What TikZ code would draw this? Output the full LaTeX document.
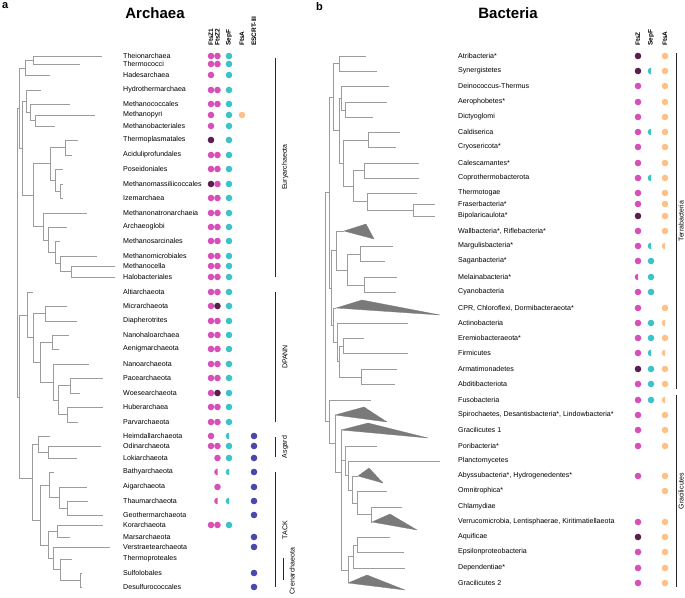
\documentclass[tikz,border=0pt]{standalone}
\usepackage{fontspec}
\setmainfont{Liberation Sans}
\usetikzlibrary{calc}
\definecolor{ftsz}{HTML}{D94FBA}
\definecolor{ftszdark}{HTML}{5B1F4E}
\definecolor{sepf}{HTML}{3CC3C8}
\definecolor{ftsa}{HTML}{FDC187}
\definecolor{escrt}{HTML}{4B48AD}
\definecolor{branch}{HTML}{9C9C9C}
\definecolor{collapsed}{HTML}{7A7A7A}
\newcommand\halfdot[2]{\fill[#2] #1 ++(0,3.3) arc[start angle=90, end angle=270, radius=3.3] -- cycle;}

\begin{document}
\begin{tikzpicture}[x=1pt, y=-1pt,
    br/.style={draw=branch, line width=0.8pt},
    clade/.style={fill=collapsed, draw=collapsed, line width=0.3pt, line join=round},
    taxon/.style={anchor=west, inner sep=0pt, font=\fontsize{7.1}{8}\selectfont},
    colhead/.style={rotate=90, anchor=west, inner sep=0pt, font=\fontsize{6.5}{7}\selectfont\bfseries},
    group/.style={rotate=90, inner sep=0pt, font=\fontsize{7}{8}\selectfont},
    bar/.style={draw=black!85, line width=0.7pt},
    dot/.style={circle, fill=#1, inner sep=0pt, minimum size=6.6pt},
    title/.style={font=\fontsize{15}{17}\selectfont\bfseries},
    panel/.style={anchor=north west, inner sep=0pt, font=\fontsize{11}{12}\selectfont\bfseries}
]
\useasboundingbox (0,0) rectangle (685,597);

% headings
\node[panel] (pa) at (2,2) {a};
\node[panel] (pb) at (316,2) {b};
\node[title] (arch) at (155,13) {Archaea};
\node[title] (bact) at (508,13) {Bacteria};
\foreach \x/\t in {211/FtsZ1, 217.5/FtsZ2, 229/SepF, 242/FtsA, 254/ESCRT-III}
    \node[colhead] at (\x,46) {\t};
\foreach \x/\t in {638/FtsZ, 651/SepF, 665/FtsA}
    \node[colhead] at (\x,46) {\t};

% archaea labels
\foreach \y/\t [count=\i] in {56/Theionarchaea, 64/Thermococci, 75/Hadesarchaea, 90/Hydrothermarchaea,
    104/Methanococcales, 115/Methanopyri, 126/Methanobacteriales, 140/Thermoplasmatales,
    155/Aciduliprofundales, 169/Poseidoniales, 184/Methanomassiliicoccales, 198/Izemarchaea,
    213/Methanonatronarchaeia, 227/Archaeoglobi, 241/Methanosarcinales, 256/Methanomicrobiales,
    266/Methanocella, 277/Halobacteriales, 292/Altiarchaeota, 306/Micrarchaeota,
    321/Diapherotrites, 335/Nanohaloarchaea, 349/Aenigmarchaeota, 364/Nanoarchaeota,
    378/Pacearchaeota, 393/Woesearchaeota, 407/Huberarchaea, 422/Parvarchaeota,
    436/Heimdallarchaeota, 446/Odinarchaeota, 458/Lokiarchaeota, 472/Bathyarchaeota,
    487/Aigarchaeota, 501/Thaumarchaeota, 515/Geothermarchaeota, 525/Korarchaeota,
    537/Marsarchaeota, 547/Verstraetearchaeota, 559/Thermoproteales, 573/Sulfolobales,
    587/Desulfurococcales}
    \node[taxon] (a\i) at (123,\y) {\t};

% archaea presence
\foreach \i in {1,...,7,9,10,12,13,...,30,36}
    \node[dot=ftsz] at ($(a\i.west)+(88,0)$) {};
\foreach \i in {8,11}
    \node[dot=ftszdark] at ($(a\i.west)+(88,0)$) {};
\foreach \i in {1,2,4,5,9,10,11,...,19,21,22,...,25,27,28,30,31,33,36}
    \node[dot=ftsz] at ($(a\i.west)+(94.5,0)$) {};
\foreach \i in {20,26}
    \node[dot=ftszdark] at ($(a\i.west)+(94.5,0)$) {};
\foreach \i in {32,34}
    {\halfdot{($(a\i.west)+(94.5,0)$)}{ftsz}}
\foreach \i in {1,...,28,30,31,36}
    \node[dot=sepf] at ($(a\i.west)+(106,0)$) {};
\foreach \i in {29,32,34}
    {\halfdot{($(a\i.west)+(106,0)$)}{sepf}}
\node[dot=ftsa] at ($(a6.west)+(119,0)$) {};
\foreach \i in {29,...,35,37,38,40,41}
    \node[dot=escrt] at ($(a\i.west)+(131,0)$) {};

% archaea groups
\draw[bar] (275,58) -- (275,277);
\draw[bar] (275,292) -- (275,422);
\draw[bar] (275,437) -- (275,457);
\draw[bar] (275,472) -- (275,587);
\draw[bar] (283,558) -- (283,580);
\node[group] (eury) at (285,167) {Euryarchaeota};
\node[group] (dpann) at (285,357) {DPANN};
\node[group] (asgard) at (285,447) {Asgard};
\node[group] (tack) at (285,530) {TACK};
\node[group] (cren) at (292,571) {Crenarchaeota};

% archaea tree
\foreach \n/\x/\y in {t1/102/56, t2/80/64, t3/50/75, t4/41/90, t5/70/104, t6/95/115, t7/55/126,
    t8/78/140, t9/72/155, t10/63/169, t11/63/184, t12/63/198, t13/87/213, t14/67/227, t15/60/241,
    t16/97/256, t17/115/266, t18/115/277, t19/33/292, t20/67/306, t21/77/321, t22/69/335,
    t23/59/349, t24/89/364, t25/103/378, t26/80/393, t27/103/407, t28/78/422, t29/50/436,
    t30/101/446, t31/77/458, t32/54/472, t33/87/487, t34/88/501, t35/103/515, t36/103/525,
    t37/70/537, t38/110/547, t39/72/559, t40/82/573, t41/82/587,
    nA/33/60, nB/25/68, nC/30/112, nD/35/120, nE/26/101, nF/19/108, nQ/22/148, nG/65/147,
    nH/60/191, nI/55/180, nJ/50/163, nK/33/195, nL/71/271, nM/60/263, nN/55/252, nO/48/240,
    nP/43/226, dA/45/313, dB/52/342, dC/70/385, dD/67/414, dE/58/400, dF/53/382, dG/40/362,
    dH/33/337, dI/27/315, gL/48/452, gA/38/444, x1/49/485, x2/59/497, x3/67/508,
    y1/80/580, y2/60/569, y3/53/558, y4/57/531, y5/48/545, nTk/40/520, nAT/32/478,
    nX/19/397, aroot/17/252}
    \coordinate (\n) at (\x,\y);
\foreach \p/\c in {nA/t1, nA/t2, nB/nA, nB/t3, nD/t6, nD/t7, nC/t5, nC/nD, nE/t4, nE/nC,
    nQ/nE, nQ/nK, nF/nB, nF/nQ, nG/t8, nG/t9, nH/t11, nH/t12, nI/t10, nI/nH, nJ/nG, nJ/nI,
    nL/t17, nL/t18, nM/t16, nM/nL, nN/t15, nN/nM, nO/t14, nO/nN, nP/t13, nP/nO, nK/nJ, nK/nP,
    dA/t20, dA/t21, dB/t22, dB/t23, dC/t25, dC/t26, dD/t27, dD/t28, dE/dC, dE/dD, dF/t24, dF/dE,
    dG/dB, dG/dF, dH/dA, dH/dG, dI/t19, dI/dH,
    gL/t30, gL/t31, gA/t29, gA/gL, x3/t34, x3/t35, x2/t33, x2/x3, x1/t32, x1/x2,
    y1/t40, y1/t41, y2/t39, y2/y1, y4/t36, y4/t37, y3/t38, y3/y2, y5/y4, y5/y3,
    nTk/x1, nTk/y5, nAT/gA, nAT/nTk, nX/dI, nX/nAT, aroot/nF, aroot/nX}
    \draw[br] (\p) |- (\c);

% bacteria labels
\foreach \y/\t [count=\i] in {56/Atribacteria*, 71/Synergistetes, 86/Deinococcus-Thermus,
    102/Aerophobetes*, 117/Dictyoglomi, 132/Caldiserica, 147/Cryosericota*, 163/Calescamantes*,
    178/Coprothermobacterota, 193/Thermotogae, 204/Fraserbacteria*, 216/Bipolaricaulota*,
    231/{Wallbacteria*, Riflebacteria*}, 246/Margulisbacteria*, 261/Saganbacteria*,
    277/Melainabacteria*, 292/Cyanobacteria, 308/{CPR, Chloroflexi, Dormibacteraeota*},
    323/Actinobacteria, 338/Eremiobacteraeota*, 353/Firmicutes, 369/Armatimonadetes,
    384/Abditibacteriota, 400/Fusobacteria, 415/{Spirochaetes, Desantisbacteria*, Lindowbacteria*},
    430/Gracilicutes 1, 446/Poribacteria*, 461/Planctomycetes,
    476/{Abyssubacteria*, Hydrogenedentes*}, 491/Omnitrophica*, 507/Chlamydiae,
    522/{Verrucomicrobia, Lentisphaerae, Kiritimatiellaeota}, 537/Aquificae,
    552/Epsilonproteobacteria, 568/Dependentiae*, 583/Gracilicutes 2}
    \node[taxon] (b\i) at (458,\y) {\t};

% bacteria presence
\foreach \i in {3,...,11,13,14,15,17,18,...,21,23,24,...,27,29,32,34,35,36}
    \node[dot=ftsz] at ($(b\i.west)+(180,0)$) {};
\foreach \i in {1,2,12,22,33}
    \node[dot=ftszdark] at ($(b\i.west)+(180,0)$) {};
\halfdot{($(b16.west)+(180,0)$)}{ftsz}
\foreach \i in {15,16,17,19,20,22,23,24}
    \node[dot=sepf] at ($(b\i.west)+(193,0)$) {};
\foreach \i in {2,6,9,14,21}
    {\halfdot{($(b\i.west)+(193,0)$)}{sepf}}
\foreach \i in {1,...,13,18,20,22,23,25,26,27,29,30,32,33,...,36}
    \node[dot=ftsa] at ($(b\i.west)+(207,0)$) {};
\foreach \i in {14,19,21,24}
    {\halfdot{($(b\i.west)+(207,0)$)}{ftsa}}

% bacteria groups
\draw[bar] (676,53) -- (676,389);
\draw[bar] (676,395) -- (676,587);
\node[group] (terra) at (681,221) {Terrabacteria};
\node[group] (graci) at (681,491) {Gracilicutes};

% bacteria tree
\foreach \n/\x/\y in {s1/366/56, s2/377/71, s3/389/86, s4/387/102, s5/373/117, s6/400/132,
    s7/396/147, s8/419/163, s9/419/178, s10/417/193, s11/435/204, s12/435/216, s13/344/231,
    s14/393/246, s15/385/261, s16/397/277, s17/396/292, s18/336/308, s19/408/323, s20/364/338,
    s21/408/353, s22/397/369, s23/395/384, s24/371/400, s25/335/415, s26/341/430, s27/377/446,
    s28/440/461, s29/358/476, s30/387/491, s31/402/507, s32/372/522, s33/390/537, s34/404/552,
    s35/405/568, s36/348/583,
    b1/339/63, b2/345/110, b3/341/98, b4/368/140, b5/364/170, b6/413/210, b7/367/201,
    b8/353/186, b9/343/163, b10/339/130, b11/333/97, b13/360/254, b14/364/285, b15/347/270,
    b16/336/250, b17/343/346, b18/361/377, b19/339/361, b20/337/342, b21/333/325, b22/331/288,
    b12/329/192, c1/371/514, c2/357/503, c3/352/490, c4/348/475, c5/345/460, c6/357/545,
    c7/353/556, c8/348/570, c9/341/472, c11/335/443, c12/329/421, broot/325/306}
    \coordinate (\n) at (\x,\y);
\foreach \p/\c in {b1/s1, b1/s2, b2/s4, b2/s5, b3/s3, b3/b2, b4/s6, b4/s7, b5/s8, b5/s9,
    b6/s11, b6/s12, b7/s10, b7/b6, b8/b5, b8/b7, b9/b4, b9/b8, b10/b3, b10/b9, b11/b1, b11/b10,
    b13/s14, b13/s15, b14/s16, b14/s17, b15/b13, b15/b14, b16/s13, b16/b15, b17/s20, b17/s21,
    b18/s22, b18/s23, b19/b17, b19/b18, b20/s19, b20/b19, b21/s18, b21/b20, b22/b16, b22/b21,
    b12/b11, b12/b22, c1/s31, c1/s32, c2/s30, c2/c1, c3/s29, c3/c2, c4/s28, c4/c3, c5/s27, c5/c4,
    c6/s33, c6/s34, c7/c6, c7/s35, c8/c7, c8/s36, c9/s26, c9/c5, c9/c8, c11/s25, c11/c9,
    c12/s24, c12/c11, broot/b12, broot/c12}
    \draw[br] (\p) |- (\c);

% collapsed clades
\foreach \a/\tx/\ty/\bx/\by in {s13/366/224/374/239, s18/362/300/440/315, s25/364/407/387/422,
    s26/368/423/428/438, s29/369/468/383/483, s32/390/514/417/530, s36/367/575/405/590}
    \fill[clade] (\a) -- (\tx,\ty) -- (\bx,\by) -- cycle;
\end{tikzpicture}
\end{document}
